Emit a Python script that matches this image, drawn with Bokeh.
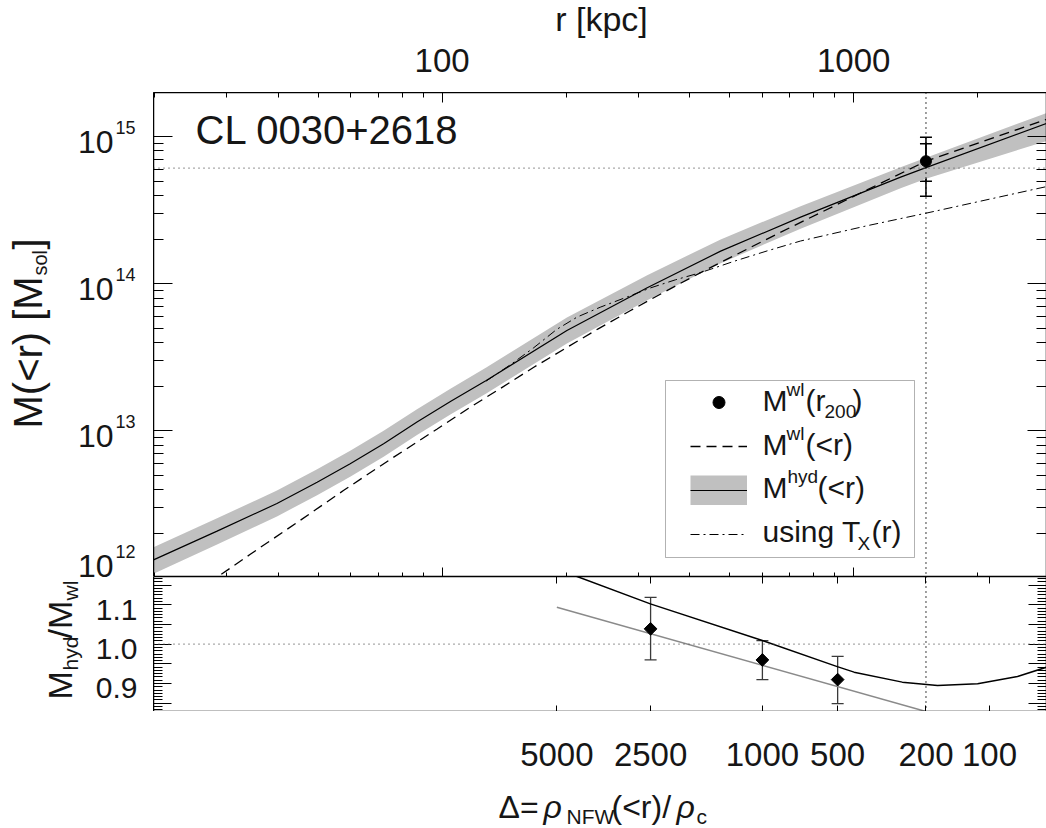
import numpy as np
from bokeh.plotting import figure
from bokeh.layouts import column, row
from bokeh.models import (Range1d, FixedTicker, LogAxis, LinearAxis, Span, Label,
                          Whisker, TeeHead, ColumnDataSource, Legend, LegendItem,
                          BoxAnnotation, CustomJSTickFormatter, LogScale, LinearScale)
from bokeh.embed import file_html
from bokeh.resources import INLINE

FONT = "Liberation Sans"
INK = "#161616"
BAND = "#c0c0c0"

# ---------------- data ----------------
# hydrostatic mass profile with its uncertainty band (r in kpc, M in M_sun)
r_hyd = [19.9, 28.4, 39.7, 49.7, 59.8, 72.1, 86.9, 105, 128, 201, 315, 475, 743,
         1300, 1498, 2940]
m_hyd = [1.324e12, 2.075e12, 3.199e12, 4.467e12, 5.970e12, 8.166e12, 1.146e13,
         1.585e13, 2.198e13, 4.808e13, 9.397e13, 1.667e14, 2.838e14, 5.309e14,
         6.166e14, 1.233e15]
m_hyd_hi = [1.614e12, 2.541e12, 3.917e12, 5.470e12, 7.311e12, 1.000e13, 1.403e13,
            1.941e13, 2.692e13, 5.888e13, 1.143e14, 2.004e14, 3.373e14, 6.209e14,
            7.211e14, 1.449e15]
m_hyd_lo = [1.064e12, 1.687e12, 2.612e12, 3.648e12, 4.875e12, 6.668e12, 9.354e12,
            1.294e13, 1.795e13, 3.926e13, 7.727e13, 1.380e14, 2.371e14, 4.467e14,
            5.188e14, 9.354e14]

# weak-lensing NFW mass profile
r_wl = [25.1, 34.2, 44.8, 57.7, 74.8, 97.3, 117, 139, 167, 200, 240, 287, 343,
        409, 475, 653, 984, 1498, 2940]
m_wl = [7.94e11, 1.445e12, 2.415e12, 3.936e12, 6.383e12, 1.028e13, 1.445e13,
        1.950e13, 2.704e13, 3.656e13, 4.955e13, 6.577e13, 8.650e13, 1.127e14,
        1.396e14, 2.188e14, 3.846e14, 6.823e14, 1.312e15]

# hydrostatic mass using the measured temperature profile T_X(r)
r_tx = [128, 147, 167, 190, 213, 243, 282, 321, 369, 425, 512, 617, 743, 1079,
        1498, 2940]
m_tx = [2.178e13, 2.831e13, 3.673e13, 4.898e13, 5.943e13, 6.950e13, 8.147e13,
        9.376e13, 1.064e14, 1.191e14, 1.422e14, 1.675e14, 1.954e14, 2.483e14,
        3.020e14, 4.581e14]

# weak-lensing mass at r200 with statistical and total errors
r200 = 1498
m200_wl = 6.82e14
m200_wl_stat = (4.98e14, 8.96e14)
m200_wl_tot = (3.94e14, 9.94e14)
m200_hyd = 6.12e14

# overdensity scale of the lower axis
delta_labels = ["5000", "2500", "1000", "500", "200", "100"]
r_delta = [190, 321, 600, 914, 1498, 2137]

# mass ratio M_hyd / M_wl
ratio_r = [199.5, 212.8, 320.6, 599.8, 912, 1002, 1312, 1598, 2000, 2500, 2940]
ratio_val = [1.183, 1.172, 1.1025, 1.0094, 0.943, 0.929, 0.9036, 0.895, 0.8995,
             0.918, 0.9416]
ratio_pts_r = [321, 600, 914]
ratio_pts = [1.039, 0.960, 0.910]
ratio_pts_lo = [0.960, 0.910, 0.849]
ratio_pts_hi = [1.119, 1.009, 0.969]
fit_r = [190, 1498]
fit_val = [1.094, 0.829]

r_ticks = [100, 1000]
r_minor = [k * 10 ** e for e in (1, 2, 3) for k in range(2, 10) if 19 < k * 10 ** e < 3000]
m_ticks = [1e12, 1e13, 1e14, 1e15]
m_minor = [k * 10.0 ** e for e in (12, 13, 14, 15) for k in range(2, 10) if k * 10.0 ** e <= 2e15]
q_ticks = [0.85, 0.90, 0.95, 1.00, 1.05, 1.10, 1.15]
q_labels = [0.9, 1.0, 1.1]
q_minor = [0.85 + i * 0.05 / 6 for i in range(-3, 40) if 0.83 < 0.85 + i * 0.05 / 6 < 1.172]

# page geometry (px)
LEFT = 153                 # left edge of both plot frames
TOP_H = 92                 # strip above the upper frame
FRAME_W = 893
UP_H, LOW_H = 484, 135     # frame heights
BOT_H = 828 - TOP_H - UP_H - LOW_H
UPB = TOP_H + UP_H         # page y of the upper frame bottom
LOWB = UPB + LOW_H         # page y of the lower frame bottom
LIFT = 0.36                # label anchor -> glyph baseline, in units of font size

BLANK = CustomJSTickFormatter(code="return ''")


def style_axis(ax, major_in, minor_in):
    ax.major_tick_in = major_in
    ax.major_tick_out = 0
    ax.minor_tick_in = minor_in
    ax.minor_tick_out = 0
    ax.axis_line_color = "black"
    ax.axis_line_width = 1.5
    ax.major_tick_line_color = "black"
    ax.minor_tick_line_color = "black"
    ax.major_tick_line_width = 1
    ax.minor_tick_line_width = 1
    ax.formatter = BLANK
    ax.major_label_text_font_size = "1px"
    ax.major_label_standoff = -3


def pane(fw, fh, x_range, y_range, x_log=False, bl=0, **kw):
    """A bare figure used as a canvas for text around the plot frames."""
    p = figure(frame_width=fw, frame_height=fh, x_range=x_range, y_range=y_range,
               x_axis_type="log" if x_log else "linear",
               x_axis_location=None, y_axis_location=None, toolbar_location=None,
               output_backend="svg", min_border_left=bl, min_border_right=0,
               min_border_top=0, min_border_bottom=0, **kw)
    p.outline_line_color = None
    p.grid.visible = False
    return p


def txt(p, ox, oy, x, y, text, size, rotated=False, align="left", style="normal"):
    """Text whose baseline starts at page position (x, y); (ox, oy) is the
    frame's lower-left corner on the page."""
    if rotated:
        x = x - LIFT * size
    else:
        y = y - LIFT * size
    p.add_layout(Label(x=x - ox, y=oy - y, x_units="screen", y_units="screen",
                       text=text, angle=np.pi / 2 if rotated else 0.0,
                       text_align=align, text_baseline="alphabetic", text_font=FONT,
                       text_font_size=f"{size}px", text_font_style=style,
                       text_color=INK))


def data_txt(p, x, y, text, size, x_units="data", y_units="data", dy=0.0,
             align="center", y_range_name="default"):
    """Text anchored at a data value; dy is the baseline's offset in px (up +)."""
    p.add_layout(Label(x=x, y=y, x_units=x_units, y_units=y_units, text=text,
                       y_range_name=y_range_name,
                       y_offset=dy + LIFT * size, text_align=align,
                       text_baseline="alphabetic", text_font=FONT,
                       text_font_size=f"{size}px", text_color=INK))


x_rng = Range1d(19.9, 2940)
y_up = Range1d(1.02e12, 2.0e15)
y_low = Range1d(0.829, 1.172)

# ---------------- strip above: r axis numbers and title ----------------
top = pane(FRAME_W, TOP_H, x_rng, Range1d(0, 1), x_log=True, bl=LEFT)
for t in r_ticks:
    data_txt(top, t, TOP_H - 72, f"{t:d}", 33, y_units="screen")
txt(top, LEFT, TOP_H, 601, 31, "r [kpc]", 34, align="center")

# ---------------- upper panel: M(<r) ----------------
p1 = figure(frame_width=FRAME_W, frame_height=UP_H, x_axis_type="log", y_axis_type="log",
            x_range=x_rng, y_range=y_up, x_axis_location="above",
            output_backend="svg", toolbar_location=None,
            min_border_left=0, min_border_right=0, min_border_top=0, min_border_bottom=0)
p1.grid.visible = False
p1.outline_line_color = None

top_ax = p1.xaxis[0]
top_ax.ticker = FixedTicker(ticks=r_ticks, minor_ticks=r_minor)
style_axis(top_ax, 10, 5)
bot_ax1 = LogAxis(ticker=FixedTicker(ticks=r_ticks, minor_ticks=r_minor))
style_axis(bot_ax1, 9, 4)
p1.add_layout(bot_ax1, "below")

left_ax1 = p1.yaxis[0]
left_ax1.ticker = FixedTicker(ticks=m_ticks, minor_ticks=m_minor)
style_axis(left_ax1, 19, 10)
right_ax1 = LogAxis(ticker=FixedTicker(ticks=m_ticks, minor_ticks=m_minor))
style_axis(right_ax1, 19, 10)
p1.add_layout(right_ax1, "right")

band = p1.varea(x=r_hyd, y1=m_hyd_lo, y2=m_hyd_hi, fill_color=BAND, fill_alpha=1)
band_key = p1.line(x=[np.nan, np.nan], y=[np.nan, np.nan], line_color=BAND, line_width=30)
wl_line = p1.line(r_wl, m_wl, line_color="black", line_width=1.3, line_dash="10 6")
hyd_line = p1.line(r_hyd, m_hyd, line_color="black", line_width=1.2)
tx_line = p1.line(r_tx, m_tx, line_color="black", line_width=1.0, line_dash="9 4 2 4")

p1.add_layout(Span(location=r200, dimension="height", line_color="black",
                   line_width=1.5, line_dash="1 4"))
p1.add_layout(Span(location=m200_hyd, dimension="width", line_color="#555555",
                   line_width=1.2, line_dash="1 4"))

for lo, hi in (m200_wl_tot, m200_wl_stat):
    src = ColumnDataSource(dict(r=[r200], lo=[lo], hi=[hi]))
    p1.add_layout(Whisker(source=src, base="r", lower="lo", upper="hi",
                          dimension="height", line_color="black", line_width=1.5,
                          lower_head=TeeHead(size=12, line_color="black", line_width=1.5),
                          upper_head=TeeHead(size=12, line_color="black", line_width=1.5)))
pt = p1.scatter([r200], [m200_wl], marker="circle", size=11, color="black")

p1.add_layout(BoxAnnotation(left=665 - LEFT, right=914 - LEFT, top=UPB - 380,
                            bottom=UPB - 557, left_units="screen",
                            right_units="screen", top_units="screen",
                            bottom_units="screen", fill_color=None, fill_alpha=0,
                            line_color="black", line_width=1))
legend = Legend(items=[LegendItem(label=" ", renderers=[pt]),
                       LegendItem(label=" ", renderers=[wl_line]),
                       LegendItem(label=" ", renderers=[band_key, hyd_line]),
                       LegendItem(label=" ", renderers=[tx_line])],
                location=(689.5 - 10 - LEFT, UPB - 559), padding=10, spacing=14,
                glyph_width=57, glyph_height=30, label_text_font_size="1px",
                label_width=60, label_height=20, border_line_alpha=0,
                background_fill_alpha=0, margin=0)
p1.add_layout(legend)

txt(p1, LEFT, UPB, 762, 411, "M", 30)
txt(p1, LEFT, UPB, 786, 396, "wl", 19)
txt(p1, LEFT, UPB, 805, 411, "(r", 30)
txt(p1, LEFT, UPB, 824, 418, "200", 19)
txt(p1, LEFT, UPB, 852, 411, ")", 30)
txt(p1, LEFT, UPB, 762, 455, "M", 30)
txt(p1, LEFT, UPB, 786, 440, "wl", 19)
txt(p1, LEFT, UPB, 805, 455, "(<r)", 30)
txt(p1, LEFT, UPB, 762, 498, "M", 30)
txt(p1, LEFT, UPB, 787, 483, "hyd", 19)
txt(p1, LEFT, UPB, 817, 498, "(<r)", 30)
txt(p1, LEFT, UPB, 762, 542, "using T", 30)
txt(p1, LEFT, UPB, 857, 550, "X", 19)
txt(p1, LEFT, UPB, 871, 542, "(r)", 30)
txt(p1, LEFT, UPB, 195, 144, "CL 0030+2618", 40)

# ---------------- lower panel: mass ratio ----------------
p2 = figure(frame_width=FRAME_W, frame_height=LOW_H, x_axis_type="log", x_range=x_rng,
            y_range=y_low, output_backend="svg", toolbar_location=None,
            min_border_left=0, min_border_right=0, min_border_top=0, min_border_bottom=0)
p2.grid.visible = False
p2.outline_line_color = None

b_ax = p2.xaxis[0]
b_ax.ticker = FixedTicker(ticks=r_delta, minor_ticks=[])
style_axis(b_ax, 6, 0)
t_ax = LogAxis(ticker=FixedTicker(ticks=r_delta, minor_ticks=[]))
style_axis(t_ax, 7, 0)
p2.add_layout(t_ax, "above")

l_ax = p2.yaxis[0]
l_ax.ticker = FixedTicker(ticks=q_ticks, minor_ticks=q_minor)
style_axis(l_ax, 18, 9)
r_ax = LinearAxis(ticker=FixedTicker(ticks=q_ticks, minor_ticks=q_minor))
style_axis(r_ax, 18, 9)
p2.add_layout(r_ax, "right")

p2.add_layout(Span(location=1.0, dimension="width", line_color="#555555",
                   line_width=1.2, line_dash="1 4"))
p2.add_layout(Span(location=r200, dimension="height", line_color="black",
                   line_width=1.5, line_dash="1 4"))
p2.line(fit_r, fit_val, line_color="#8a8a8a", line_width=1.5)
p2.line(ratio_r, ratio_val, line_color="black", line_width=1.5)
src_q = ColumnDataSource(dict(r=ratio_pts_r, lo=ratio_pts_lo, hi=ratio_pts_hi))
p2.add_layout(Whisker(source=src_q, base="r", lower="lo", upper="hi", dimension="height",
                      line_color="#3a3a3a", line_width=1.3,
                      lower_head=TeeHead(size=12, line_color="#3a3a3a", line_width=1.3),
                      upper_head=TeeHead(size=12, line_color="#3a3a3a", line_width=1.3)))
p2.scatter(ratio_pts_r, ratio_pts, marker="square", angle=np.pi / 4, size=9,
           color="black")

# ---------------- left margin of both panels ----------------
# the margin spans both frames; each panel's value range is stretched so that
# it maps onto the same pixels as in its own frame
dec_per_px = (np.log10(y_up.end) - np.log10(y_up.start)) / UP_H
mass_ext = Range1d(10 ** (np.log10(y_up.start) - LOW_H * dec_per_px), y_up.end)
q_per_px = (y_low.end - y_low.start) / LOW_H
ratio_ext = Range1d(y_low.start, y_low.end + UP_H * q_per_px)
lc = pane(LEFT, UP_H + LOW_H, Range1d(0, 1), Range1d(0, 1),
          extra_y_ranges={"mass": mass_ext, "ratio": ratio_ext},
          extra_y_scales={"mass": LogScale(), "ratio": LinearScale()})

for m in m_ticks:
    e = int(round(np.log10(m)))
    on_edge = m < y_up.start
    yv = y_up.start if on_edge else m
    base = -0.7 if on_edge else -17
    data_txt(lc, 113, yv, "10", 32, x_units="screen", dy=base, align="right",
             y_range_name="mass")
    data_txt(lc, 115, yv, str(e), 18, x_units="screen", dy=base + 19.5, align="left",
             y_range_name="mass")
for q in q_labels:
    data_txt(lc, 137, q, f"{q:.1f}", 30, x_units="screen", dy=-15.5, align="right",
             y_range_name="ratio")

txt(lc, 0, LOWB, 42, 428, "M(<r) [M", 40, rotated=True)
txt(lc, 0, LOWB, 47, 275, "sol", 20, rotated=True)
txt(lc, 0, LOWB, 42, 249, "]", 40, rotated=True)
txt(lc, 0, LOWB, 72, 699, "M", 34, rotated=True)
txt(lc, 0, LOWB, 78, 670, "hyd", 21, rotated=True)
txt(lc, 0, LOWB, 72, 638, "/M", 34, rotated=True)
txt(lc, 0, LOWB, 78, 600, "wl", 21, rotated=True)

# ---------------- strip below: overdensity scale and title ----------------
bot = pane(FRAME_W, BOT_H, x_rng, Range1d(0, 1), x_log=True, bl=LEFT)
for rd, lab in zip(r_delta, delta_labels):
    data_txt(bot, rd, 828 - 766, lab, 33, y_units="screen")
txt(bot, LEFT, 828, 498, 818, "\u0394=", 32)
txt(bot, LEFT, 828, 543, 818, "\u03c1", 32, style="italic")
txt(bot, LEFT, 828, 566, 823.5, "NFW", 21)
txt(bot, LEFT, 828, 611, 818, "(<r)/", 32)
txt(bot, LEFT, 828, 676, 818, "\u03c1", 32, style="italic")
txt(bot, LEFT, 828, 696, 823.5, "c", 21)

plots = column(p1, p2, spacing=0)
layout = column(top, row(lc, plots, spacing=0), bot, spacing=0)
open("out.html", "w").write(file_html(layout, INLINE))
